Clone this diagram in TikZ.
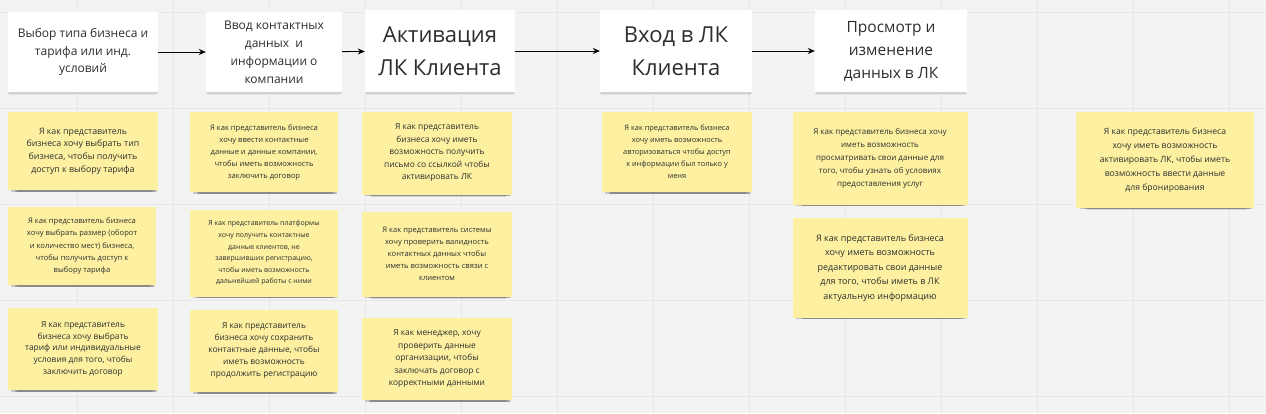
\documentclass[tikz,border=0pt]{standalone}
\usepackage{fontspec}
\setmainfont{Open Sans}
\usepackage{xcolor}
\usetikzlibrary{positioning,arrows.meta,shadows}

\definecolor{boardbg}{HTML}{F3F3F3}
\definecolor{gridline}{HTML}{E8E8E8}
\definecolor{stickyyellow}{HTML}{FDF1A1}
\definecolor{inktext}{HTML}{2E2E2E}

\newcommand{\fsz}[2]{\fontsize{#1}{#2}\selectfont}

\begin{document}
\begin{tikzpicture}[x=1pt,y=-1pt,
		title/.style={rectangle, fill=white, text=inktext, align=center, inner sep=2pt,
			general shadow={shadow xshift=0pt, shadow yshift=-3pt, shadow scale=0.99, opacity=0.06, fill=black},
			general shadow={shadow xshift=0pt, shadow yshift=-1.5pt, opacity=0.08, fill=black}},
		sticky/.style={rectangle, fill=stickyyellow, text=inktext, align=center, inner sep=2pt,
			general shadow={shadow xshift=2pt, shadow yshift=-7pt, shadow scale=0.90, opacity=0.12, fill=black},
			general shadow={shadow xshift=2pt, shadow yshift=-5pt, shadow scale=0.93, opacity=0.20, fill=black},
			general shadow={shadow xshift=1pt, shadow yshift=-3pt, shadow scale=0.97, opacity=0.18, fill=black}},
		flow/.style={-{Stealth[length=7pt,width=6pt]}, black, line width=0.9pt}]

			% board
			\useasboundingbox (0,0) rectangle (1266,413);
			\fill[boardbg] (0,0) rectangle (1266,413);
			\foreach \gx in {77,173,...,1266}
				\draw[gridline, line width=0.4pt] (\gx,0) -- (\gx,413);
			\foreach \gy in {12,108,...,413}
				\draw[gridline, line width=0.4pt] (0,\gy) -- (1266,\gy);

			% stage cards
			\node[title, minimum width=150, minimum height=80, font=\fsz{12}{17.5}] (T1) at (83,52) {Выбор типа бизнеса и\\тарифа или инд.\\условий};
			\node[title, minimum width=136, minimum height=80, font=\fsz{12}{18}] (T2) at (274,52) {Ввод контактных\\данных~ и\\информации о\\компании};
			\node[title, minimum width=150, minimum height=82, font=\fsz{22}{33}] (T3) at (440,51) {Активация\\ЛК Клиента};
			\node[title, minimum width=152, minimum height=82, font=\fsz{22}{33}] (T4) at (676,51) {Вход в ЛК\\Клиента};
			\node[title, minimum width=152, minimum height=82, font=\fsz{15.5}{23}] (T5) at (891,51) {Просмотр и\\изменение\\данных в ЛК};

			% flow between stages
			\draw[flow] (T1) -- (T2);
			\draw[flow] (T2) -- (T3);
			\draw[flow] (T3) -- (T4);
			\draw[flow] (T4) -- (T5);

			% stickies, stage 1
			\node[sticky, minimum width=150, minimum height=78, font=\fsz{8.8}{12.7}] (S11) at (83,151) {Я как представитель\\бизнеса хочу выбрать тип\\бизнеса, чтобы получить\\доступ к выбору тарифа};
			\node[sticky, minimum width=148, minimum height=78, font=\fsz{7.6}{12.4}] (S12) at (82,246) {Я как представитель бизнеса\\хочу выбрать размер (оборот\\и количество мест) бизнеса,\\чтобы получить доступ к\\выбору тарифа};
			\node[sticky, minimum width=150, minimum height=82, font=\fsz{8.4}{11.8}] (S13) at (83,349) {Я как представитель\\бизнеса хочу выбрать\\тариф или индивидуальные\\условия для того, чтобы\\заключить договор};

			% stickies, stage 2
			\node[sticky, minimum width=148, minimum height=80, font=\fsz{7.6}{12}] (S21) at (264,152) {Я как представитель бизнеса\\хочу ввести контактные\\данные и данные компании,\\чтобы иметь возможность\\заключить договор};
			\node[sticky, minimum width=148, minimum height=87, font=\fsz{7}{11.6}] (S22) at (264,253) {Я как представитель платформы\\хочу получить контактные\\данные клиентов, не\\завершивших регистрацию,\\чтобы иметь возможность\\дальнейшей работы с ними};
			\node[sticky, minimum width=148, minimum height=82, font=\fsz{8.4}{12}] (S23) at (264,351) {Я как представитель\\бизнеса хочу сохранить\\контактные данные, чтобы\\иметь возможность\\продолжить регистрацию};

			% stickies, stage 3
			\node[sticky, minimum width=150, minimum height=83, font=\fsz{8.4}{12.5}] (S31) at (437,153) {Я как представитель\\бизнеса хочу иметь\\возможность получить\\письмо со ссылкой чтобы\\активировать ЛК};
			\node[sticky, minimum width=150, minimum height=85, font=\fsz{7.6}{12}] (S32) at (437,254) {Я как представитель системы\\хочу проверить валидность\\контактных данных чтобы\\иметь возможность связи с\\клиентом};
			\node[sticky, minimum width=150, minimum height=82, font=\fsz{8.4}{12.5}] (S33) at (437,359) {Я как менеджер, хочу\\проверить данные\\организации, чтобы\\заключать договор с\\корректными данными};

			% stickies, stage 4
			\node[sticky, minimum width=150, minimum height=80, font=\fsz{7.4}{12}] (S41) at (677,152) {Я как представитель бизнеса\\хочу иметь возможность\\авторизоваться чтобы доступ\\к информации был только у\\меня};

			% stickies, stage 5
			\node[sticky, minimum width=175, minimum height=93, font=\fsz{8}{13}] (S51) at (880,158) {Я как представитель бизнеса хочу\\иметь возможность\\просматривать свои данные для\\того, чтобы узнать об условиях\\предоставления услуг};
			\node[sticky, minimum width=175, minimum height=100, font=\fsz{9}{14.5}] (S52) at (880,268) {Я как представитель бизнеса\\хочу иметь возможность\\редактировать свои данные\\для того, чтобы иметь в ЛК\\актуальную информацию};

			% lone sticky on the right
			\node[sticky, minimum width=178, minimum height=96, font=\fsz{8.6}{14}] (S61) at (1165,160) {Я как представитель бизнеса\\хочу иметь возможность\\активировать ЛК, чтобы иметь\\возможность ввести данные\\для бронирования};

		\end{tikzpicture}
\end{document}
